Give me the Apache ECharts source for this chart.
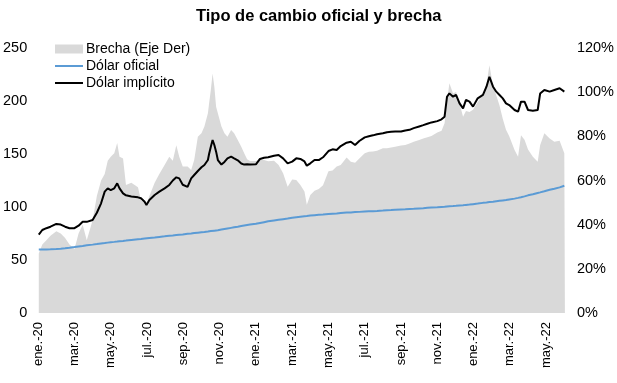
<!DOCTYPE html>
<html>
<head>
<meta charset="utf-8">
<script src="https://cdn.jsdelivr.net/npm/echarts@6/dist/echarts.min.js"></script>
<style>
html,body{margin:0;padding:0;background:#fff;}
#chart{width:617px;height:383px;}
</style>
</head>
<body>
<div id="chart"></div>
<script>
const dates = [
'2020-01-02','2020-01-08','2020-01-15','2020-01-22','2020-02-01','2020-02-08','2020-02-15','2020-02-22',
'2020-03-01','2020-03-08','2020-03-15','2020-03-22','2020-04-01','2020-04-08','2020-04-15','2020-04-21','2020-04-26',
'2020-05-01','2020-05-07','2020-05-12','2020-05-16','2020-05-22','2020-05-27','2020-06-05','2020-06-16','2020-06-21','2020-06-27','2020-06-30',
'2020-07-05','2020-07-14','2020-07-22','2020-07-31','2020-08-08','2020-08-14','2020-08-20','2020-08-25','2020-08-31',
'2020-09-08','2020-09-14','2020-09-19','2020-09-25','2020-10-01','2020-10-06','2020-10-12','2020-10-14','2020-10-17','2020-10-20','2020-10-23','2020-10-26','2020-10-29',
'2020-11-04','2020-11-09','2020-11-14','2020-11-20','2020-11-25','2020-12-01','2020-12-07','2020-12-12','2020-12-17','2020-12-22',
'2021-01-01','2021-01-08','2021-01-15','2021-01-22','2021-02-01','2021-02-08','2021-02-15','2021-02-22',
'2021-03-01','2021-03-08','2021-03-15','2021-03-22','2021-03-26','2021-04-01','2021-04-08','2021-04-15','2021-04-22',
'2021-05-01','2021-05-08','2021-05-15','2021-05-22','2021-06-01','2021-06-08','2021-06-15','2021-06-22',
'2021-07-01','2021-07-08','2021-07-15','2021-07-22','2021-08-01','2021-08-08','2021-08-15','2021-08-22',
'2021-09-01','2021-09-08','2021-09-15','2021-09-22','2021-10-01','2021-10-08','2021-10-15','2021-10-22',
'2021-11-01','2021-11-08','2021-11-13','2021-11-17','2021-11-21','2021-11-27','2021-12-02','2021-12-08','2021-12-14','2021-12-19','2021-12-25','2021-12-31',
'2022-01-08','2022-01-17','2022-01-23','2022-01-28','2022-02-03','2022-02-08','2022-02-13','2022-02-18','2022-02-23','2022-02-28',
'2022-03-09','2022-03-15','2022-03-20','2022-03-26','2022-04-01','2022-04-09','2022-04-17','2022-04-21','2022-04-28',
'2022-05-07','2022-05-15','2022-05-24','2022-06-01','2022-06-02'
];
const dolarOficial = [
59.9,59.9,60.0,60.1,60.4,60.7,61.1,61.6,
62.2,62.8,63.3,63.9,64.5,65.0,65.6,66.0,66.4,
66.8,67.1,67.4,67.7,68.0,68.3,68.9,69.6,69.9,70.3,70.5,
70.8,71.3,71.8,72.3,72.8,73.1,73.5,73.8,74.1,
74.7,75.0,75.4,75.8,76.2,76.5,76.9,77.0,77.3,77.5,77.7,77.9,78.1,
78.7,79.2,79.7,80.3,80.8,81.4,82.0,82.5,83.0,83.4,
84.1,84.9,85.7,86.5,87.3,87.9,88.5,89.1,
89.8,90.3,90.8,91.3,91.5,92.0,92.3,92.6,92.9,
93.3,93.6,93.9,94.3,94.7,94.9,95.2,95.4,
95.7,95.9,96.1,96.3,96.6,96.9,97.1,97.4,
97.7,97.9,98.2,98.4,98.7,98.9,99.2,99.5,
99.8,100.1,100.3,100.5,100.7,100.9,101.1,101.4,101.7,102.0,102.3,102.7,
103.2,103.9,104.3,104.7,105.0,105.4,105.8,106.2,106.6,107.1,
107.9,108.6,109.2,110.0,111.0,112.0,113.2,113.8,114.9,
116.3,117.3,118.5,120.0,120.3
];
const dolarImplicito = [
74,78.3,80,81.4,84,83.4,81.4,80,
80,82.4,86,86,87.7,94.6,103.5,114.5,117.6,
116,117.6,122.3,117.6,112.9,111,110,109.1,108.2,105,101.9,
106.6,111.3,114.5,117.6,120.8,125,128,127,121,
119,127,130.2,134,137.5,139.6,144.3,150,156.9,163.2,158.5,152.2,144.3,
140,142.5,145.9,147.5,145.9,144,141,140,140.3,140,
140.3,145.3,146.5,146.9,148.4,149,145.9,141.2,
142.8,145.9,145.3,143,139,141.2,144.3,144.3,146.9,
152.8,154.4,153.8,157.5,160.7,161.6,158.5,162.3,
165.7,166.7,167.6,168.6,169.5,170.6,170.9,171.2,
171.2,172.2,172.8,174.4,176,177.2,178.5,179.8,
181,182.7,185.2,204,207.2,204.1,205.7,197.8,193.1,201,199.4,194.7,
202.5,205.7,213.5,222.9,213.5,208.8,205.7,202.5,197.8,196.2,
191.5,189.9,199.4,199.4,191.5,190.9,191.5,207,210.4,
208.8,210.4,212,208.8,208.8
];
const brechaPct = [
27,31,33,35,37,36,34,31,
29,36,40,33,42,53,60,63,69,
70.8,72.3,77,70.8,70,58,59,57,51,50,49,
53,59,63,67,70.8,69,76,70.8,66.3,
66.3,64.7,69.3,79.8,81.4,84.4,90.4,94.9,101,108.5,102.5,93.4,90.4,
84.4,81.4,79.8,82.9,81.4,78.3,75.3,72.3,69.6,68.8,
68.8,69.3,69.3,68.7,69,67,63.3,57.2,
60.5,60.2,58,55,49,53.4,55.4,56.2,57.8,
64.2,64.5,66.3,67,70.4,68.5,68,70,
72.3,73,73.1,73.5,74.6,74.6,75,75.3,
75.9,76.1,76.8,77.6,78.3,79,79.6,80.2,
81.7,82.5,85.9,96,104,99.4,100.1,94.9,88.9,91.5,91,92,
95.5,99,103.5,112.2,103,98.5,94,88,83,80,
73.8,70.8,80.5,78.5,74,70.8,68.5,76,81.4,
79,77.6,78,72.3,72.3
];
const xTickLabels = ['ene.-20','mar.-20','may.-20','jul.-20','sep.-20','nov.-20','ene.-21','mar.-21','may.-21','jul.-21','sep.-21','nov.-21','ene.-22','mar.-22','may.-22'];
const leftTicks = {min:0, max:250, interval:50};
const rightTicks = {min:0, max:1.2, interval:0.2};

function monthPos(d){
  const p = d.split('-').map(Number);
  const dim = new Date(p[0], p[1], 0).getDate();
  return (p[0]-2020)*12 + (p[1]-1) + (p[2]-1)/dim;
}
const xs = dates.map(monthPos);
const font = 'Liberation Sans, Arial, sans-serif';
const lineIcon = 'path://M0,0 L28,0 L28,0.01 Z M0,3.5 L28,3.5 L28,5.5 L0,5.5 Z M0,9 L28,9 L28,9.01 Z';

const chart = echarts.init(document.getElementById('chart'), null, {renderer:'canvas'});
chart.setOption({
  animation:false,
  backgroundColor:'#fff',
  title:{text:'Tipo de cambio oficial y brecha', left:196, top:8, padding:0,
    textStyle:{fontFamily:font, fontSize:16.5, fontWeight:'bold', color:'#000'}},
  legend:{left:55, top:42, padding:0, orient:'vertical', itemWidth:28, itemHeight:9, itemGap:3,
    textStyle:{fontFamily:font, fontSize:14, color:'#000', padding:[0,0,0,-2]},
    data:[{name:'Brecha (Eje Der)', icon:'rect'},{name:'Dólar oficial', icon:lineIcon},{name:'Dólar implícito', icon:lineIcon}]},
  grid:{left:38, right:51, top:48, bottom:70},
  xAxis:{type:'value', min:0, max:xs[xs.length-1], interval:2,
    axisLine:{show:false}, axisTick:{show:false}, splitLine:{show:false},
    axisLabel:{rotate:90, margin:9, fontFamily:font, fontSize:13, color:'#000', showMaxLabel:false,
      formatter:function(v){ if (Math.abs(v-Math.round(v))>1e-6 || Math.round(v)%2) return ''; const i=Math.round(v)/2; return xTickLabels[i]||''; }}},
  yAxis:[
    {type:'value', min:leftTicks.min, max:leftTicks.max, interval:leftTicks.interval,
      axisLine:{show:false}, axisTick:{show:false}, splitLine:{show:false},
      axisLabel:{margin:11, fontFamily:font, fontSize:14.5, color:'#000'}},
    {type:'value', min:rightTicks.min, max:rightTicks.max, interval:rightTicks.interval,
      axisLine:{show:false}, axisTick:{show:false}, splitLine:{show:false},
      axisLabel:{margin:12, fontFamily:font, fontSize:14.5, color:'#000',
        formatter:function(v){return Math.round(v*100)+'%';}}}
  ],
  series:[
    {name:'Brecha (Eje Der)', type:'line', yAxisIndex:1, symbol:'none',
      data: xs.map((x,i)=>[x, brechaPct[i]/100]),
      lineStyle:{width:0, color:'#d9d9d9'}, itemStyle:{color:'#d9d9d9'},
      areaStyle:{color:'#d9d9d9', opacity:1}, z:1},
    {name:'Dólar oficial', type:'line', yAxisIndex:0, symbol:'none',
      data: xs.map((x,i)=>[x, dolarOficial[i]]),
      lineStyle:{width:2, color:'#5b9bd5'}, itemStyle:{color:'#5b9bd5'}, z:2},
    {name:'Dólar implícito', type:'line', yAxisIndex:0, symbol:'none',
      data: xs.map((x,i)=>[x, dolarImplicito[i]]),
      lineStyle:{width:2, color:'#000'}, itemStyle:{color:'#000'}, z:3}
  ]
});
</script>
</body>
</html>
